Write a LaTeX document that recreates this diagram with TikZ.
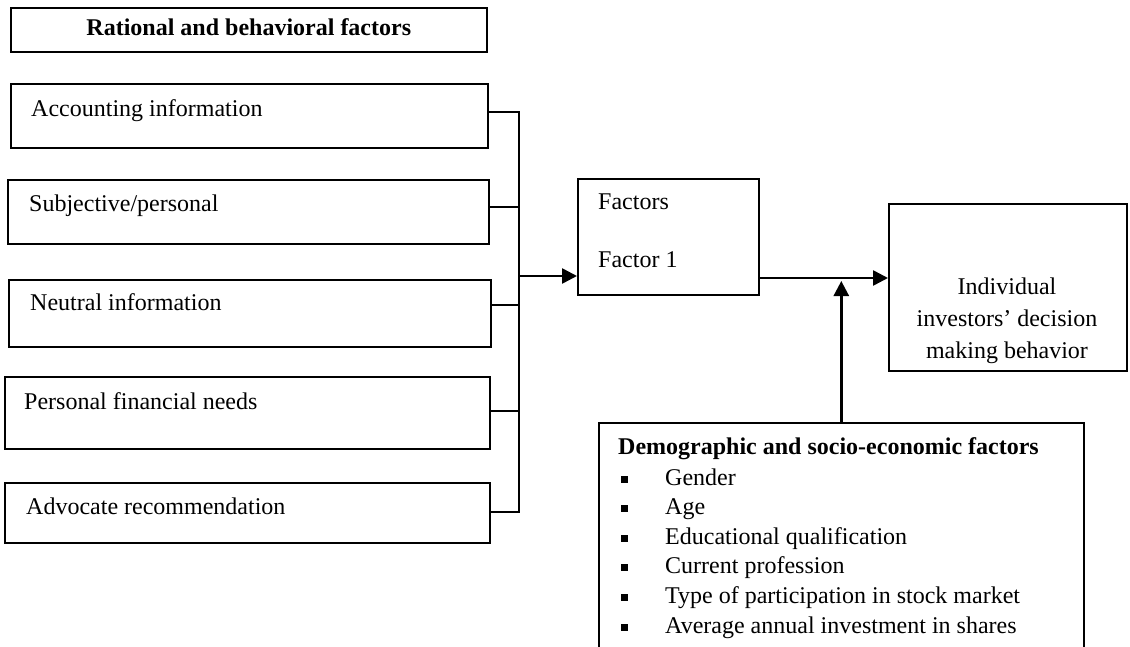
\documentclass[tikz,border=0pt]{standalone}
\usepackage{fontspec}
\setmainfont{Liberation Serif}
\usetikzlibrary{arrows.meta}
\begin{document}
\begin{tikzpicture}[x=1pt,y=-1pt,
  box/.style={draw, line width=1.6pt, rectangle, inner sep=0pt, anchor=north west},
  lbl/.style={inner sep=0pt, font=\fontsize{24}{32}\selectfont, text height=17pt, text depth=5pt},
  blbl/.style={lbl, font=\fontsize{24}{32}\selectfont\bfseries},
  mlbl/.style={inner sep=0pt, font=\fontsize{24}{32}\selectfont, align=center},
  bul/.style={fill, inner sep=0pt, minimum size=7pt},
  wire/.style={line width=1.6pt},
  arr/.style={line width=2.6pt, -{Triangle[length=15pt,width=15pt]}},
]
\useasboundingbox (0,0) rectangle (1130,647);
\clip (0,0) rectangle (1130,647);

% boxes
\node[box, minimum width=476pt, minimum height=44pt] (title) at (10,7) {};
\node[blbl] (ttitle) at (title.center) {Rational and behavioral factors};

\node[box, minimum width=477pt, minimum height=64pt] (acc) at (10,83) {};
\node[box, minimum width=481pt, minimum height=64pt] (sub) at (7,179) {};
\node[box, minimum width=482pt, minimum height=67pt] (neu) at (8,279) {};
\node[box, minimum width=485pt, minimum height=72pt] (per) at (4,376) {};
\node[box, minimum width=485pt, minimum height=60pt] (adv) at (4,482) {};

\node[lbl, anchor=west] (tacc) at (31,111) {Accounting information};
\node[lbl, anchor=west] (tsub) at (29,206) {Subjective/personal};
\node[lbl, anchor=west] (tneu) at (30,304) {Neutral information};
\node[lbl, anchor=west] (tper) at (24,403) {Personal financial needs};
\node[lbl, anchor=west] (tadv) at (26,508) {Advocate recommendation};

\node[box, minimum width=181pt, minimum height=116pt] (fac) at (577,178) {};
\node[lbl, anchor=west] (tf0) at (598,204) {Factors};
\node[lbl, anchor=west] (tf1) at (598,262) {Factor 1};

\node[box, minimum width=238pt, minimum height=167pt] (res) at (888,203) {};
\begin{scope}
\clip (888,203) rectangle (1126,364);
\node[mlbl] (tres) at (1007,321) {Individual\\investors’ decision\\making behavior};
\end{scope}

\node[box, minimum width=485pt, minimum height=300pt] (dem) at (598,422) {};
\node[blbl, anchor=west] (dh) at (618,448) {Demographic and socio-economic factors};
\foreach \t [count=\i] in {Gender, Age, Educational qualification, Current profession,
  Type of participation in stock market, Average annual investment in shares} {
  \node[bul] (b\i) at (624,{449.4+29.6*\i}) {};
  \node[lbl, anchor=west] (d\i) at (665,{449.4+29.6*\i}) {\t};
}

% bus connectors
\coordinate (bt) at (519,112);
\coordinate (bb) at (519,512);
\coordinate (s1) at (519,207);
\coordinate (s2) at (519,305);
\coordinate (s3) at (519,411);
\draw[wire] (acc.east |- bt) -- (bt) -- (bb) -- (adv.east |- bb);
\draw[wire] (sub.east |- s1) -- (s1);
\draw[wire] (neu.east |- s2) -- (s2);
\draw[wire] (per.east |- s3) -- (s3);

% arrows
\coordinate (j1) at (519,276);
\draw[arr] (j1) -- (fac.west |- j1);
\coordinate (j2) at (758,278);
\draw[arr] (fac.east |- j2) -- (res.west |- j2);
\coordinate (j3) at (842,281);
\draw[arr] (dem.north) -- (dem.north |- j3);
\end{tikzpicture}
\end{document}
